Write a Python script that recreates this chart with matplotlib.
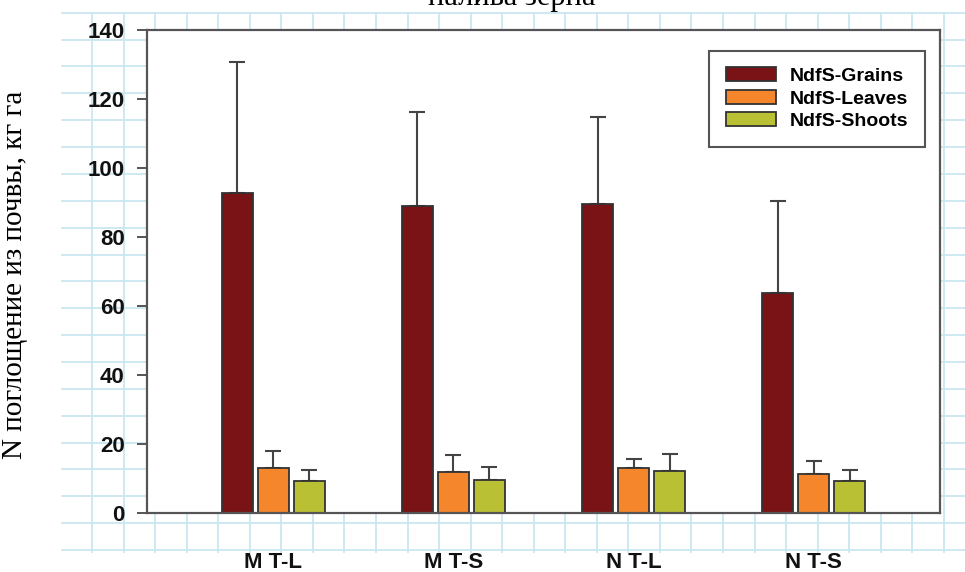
import matplotlib.pyplot as plt
from matplotlib.lines import Line2D
import numpy as np

# N uptake from soil by treatment
groups = ['M T-L', 'M T-S', 'N T-L', 'N T-S']
series = ['NdfS-Grains', 'NdfS-Leaves', 'NdfS-Shoots']
grains = [92.8, 89.0, 89.5, 63.8]
grains_err = [38.0, 27.2, 25.3, 26.6]
leaves = [13.0, 12.0, 13.0, 11.2]
leaves_err = [5.1, 4.7, 2.7, 3.8]
shoots = [9.3, 9.6, 12.3, 9.3]
shoots_err = [3.3, 3.6, 4.8, 3.3]

colors = ['#7A1315', '#F5862B', '#BAC034']

W, H = 965, 572
fig = plt.figure(figsize=(W / 100, H / 100), dpi=100)

# graph-paper background
grid_col = '#C9E7F1'
x0, x1, y0, y1 = 62, 965, 12.7, 552
for k in range(28):
    xp = 92 + k * 31.55
    fig.add_artist(Line2D([xp / W, xp / W], [1 - y0 / H, 1 - y1 / H],
                          transform=fig.transFigure, color=grid_col, lw=1.3, zorder=0))
for k in range(21):
    yp = y0 + k * 26.87
    fig.add_artist(Line2D([x0 / W, x1 / W], [1 - yp / H, 1 - yp / H],
                          transform=fig.transFigure, color=grid_col, lw=1.3, zorder=0))

ax = fig.add_axes([147 / W, 59 / H, 793 / W, 483 / H])
ax.set_facecolor('white')
ax.set_zorder(2)

x = np.arange(len(groups))
step = 0.2
width = 0.172
data = [(grains, grains_err), (leaves, leaves_err), (shoots, shoots_err)]
for i, ((vals, err), name, c) in enumerate(zip(data, series, colors)):
    ax.bar(x + (i - 1) * step, vals, width, color=c, edgecolor='#333333', linewidth=1.3,
           label=name, zorder=2,
           yerr=[np.zeros(len(err)), err], capsize=6,
           error_kw=dict(ecolor='#444444', elinewidth=1.5, capthick=1.5, zorder=1))

ax.set_xlim(-0.7, 3.7)
ax.set_ylim(0, 140)
ax.set_yticks(range(0, 141, 20))
ax.set_xticks(x)
ax.set_xticklabels(groups)

for s in ax.spines.values():
    s.set_color('#555555')
    s.set_linewidth(1.6)

ax.tick_params(axis='y', direction='out', length=7, width=1.4, color='#555555',
               labelsize=16, pad=9)
ax.tick_params(axis='x', length=0, labelsize=16, pad=28)
for lab in ax.get_yticklabels() + ax.get_xticklabels():
    lab.set_fontweight('bold')
    lab.set_fontfamily('Liberation Sans')
    lab.set_color('#111111')

ax.set_ylabel('N поглощение из почвы, кг га', fontsize=21, family='Liberation Serif',
              labelpad=0)
ax.yaxis.set_label_coords((28 - 147) / 793, (513 - 275) / 483)

fig.text(512 / W, 1 - 5 / H, 'налива зерна', fontsize=22, family='Liberation Serif',
         ha='center', va='baseline')

leg = ax.legend(loc='upper right', bbox_to_anchor=(0.981, 0.957), borderaxespad=0,
                prop=dict(family='Liberation Sans', weight='bold', size=14),
                handlelength=2.6, handleheight=0.72, handletextpad=0.7,
                labelspacing=0.25, borderpad=0.85, fancybox=False, framealpha=1)
leg.get_frame().set_edgecolor('#555555')
leg.get_frame().set_linewidth(1.5)

fig.savefig('out.png', dpi=100)
